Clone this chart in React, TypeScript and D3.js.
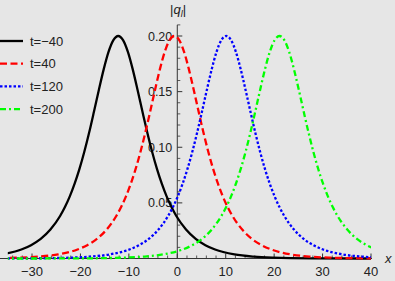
import React from "react";
import * as d3 from "d3";

const seriesLabels = ["t=−40", "t=40", "t=120", "t=200"];
const seriesColors = ["#000000", "#ff0000", "#0000ff", "#00ff00"];
const seriesDash = ["", "7,3.5", "2.5,2", "6,3,2,3"];
// peak positions
const peakCenters = [-12.2, -0.6, 10.1, 21.1];
// shared soliton profile |q_l| (offset from peak, value)
const profileOffset = [-60, -50, -40, -32, -28, -24, -20, -18, -16, -14, -12, -11, -10, -9, -8, -7, -6, -5, -4, -3, -2, -1, 0, 1, 2, 3, 4, 5, 6, 7, 8, 9, 10, 11, 12, 14, 16, 18, 20, 24, 28, 32, 40, 50, 60];
const profileValue = [0.0, 0.00002, 0.00016, 0.0008, 0.0017, 0.0037, 0.0081, 0.012, 0.0176, 0.026, 0.0382, 0.0462, 0.0558, 0.0672, 0.0805, 0.0959, 0.1132, 0.1321, 0.1515, 0.17, 0.1857, 0.1963, 0.2, 0.1963, 0.1857, 0.17, 0.1515, 0.1321, 0.1132, 0.0959, 0.0805, 0.0672, 0.0558, 0.0462, 0.0382, 0.026, 0.0176, 0.012, 0.0081, 0.0037, 0.0017, 0.0008, 0.00016, 0.00002, 0.0];

const xMajor = [-30, -20, -10, 0, 10, 20, 30, 40];
const xMinor = [-34, -32, -28, -26, -24, -22, -18, -16, -14, -12, -8, -6, -4, -2, 2, 4, 6, 8, 12, 14, 16, 18, 22, 24, 26, 28, 32, 34, 36, 38];
const yMajor = [0.05, 0.1, 0.15, 0.2];
const yMinor = [0.01, 0.02, 0.03, 0.04, 0.06, 0.07, 0.08, 0.09, 0.11, 0.12, 0.13, 0.14, 0.16, 0.17, 0.18, 0.19, 0.21];

const W = 395;
const H = 281;

export default function App() {
  const x = d3.scaleLinear().domain([-35, 40]).range([7.8, 371]);
  const y = d3.scaleLinear().domain([0, 0.2]).range([258.5, 36]);
  const x0 = x(0);
  const y0 = y(0);
  const line = d3
    .line<[number, number]>()
    .x((d) => x(d[0]))
    .y((d) => y(d[1]))
    .curve(d3.curveMonotoneX);
  const font = "Arial, 'Liberation Sans', sans-serif";
  const axisColor = "#333";
  return (
    <svg
      width={W}
      height={H}
      style={{ position: "absolute", left: 0, top: 0, background: "#e6e6e6" }}
      fontFamily={font}
    >
      <defs>
        <clipPath id="plotclip">
          <rect x={x(-35)} y={0} width={x(40) - x(-35)} height={H} />
        </clipPath>
      </defs>
      <rect x={0} y={0} width={W} height={H} fill="#e6e6e6" />
      {/* axes */}
      <line x1={0} x2={372} y1={y0} y2={y0} stroke={axisColor} strokeWidth={1} />
      <line x1={x0} x2={x0} y1={y0} y2={y(0.21)} stroke={axisColor} strokeWidth={1} />
      {xMajor.map((v) => (
        <line key={"xM" + v} x1={x(v)} x2={x(v)} y1={y0} y2={y0 - 5} stroke={axisColor} strokeWidth={1} />
      ))}
      {xMinor.map((v) => (
        <line key={"xm" + v} x1={x(v)} x2={x(v)} y1={y0} y2={y0 - 3} stroke={axisColor} strokeWidth={0.8} />
      ))}
      {yMajor.map((v) => (
        <line key={"yM" + v} x1={x0} x2={x0 + 5} y1={y(v)} y2={y(v)} stroke={axisColor} strokeWidth={1} />
      ))}
      {yMinor.map((v) => (
        <line key={"ym" + v} x1={x0} x2={x0 + 3} y1={y(v)} y2={y(v)} stroke={axisColor} strokeWidth={0.8} />
      ))}
      {xMajor.map((v) => (
        <text key={"xl" + v} x={x(v)} y={y0 + 17} textAnchor="middle" fontSize={13} fill="#222">
          {v < 0 ? "−" + Math.abs(v) : String(v)}
        </text>
      ))}
      {yMajor.map((v) => (
        <text key={"yl" + v} x={x0 - 5} y={y(v) + 4.5} textAnchor="end" fontSize={12.5} fill="#222">
          {v.toFixed(2)}
        </text>
      ))}
      <text x={385} y={263} fontSize={13} fontStyle="italic" fill="#222">x</text>
      <text x={170} y={14} fontSize={13} fill="#222">
        |<tspan fontStyle="italic">q</tspan>
        <tspan fontStyle="italic" fontSize={9} dy={3}>l</tspan>
        <tspan dy={-3}>|</tspan>
      </text>
      {/* curves */}
      <g clipPath="url(#plotclip)">
        {peakCenters.map((c, i) => {
          const pts: [number, number][] = profileOffset.map((o, j) => [c + o, profileValue[j]]);
          return (
            <path
              key={"c" + i}
              d={line(pts) || ""}
              fill="none"
              stroke={seriesColors[i]}
              strokeWidth={2.3}
              strokeDasharray={seriesDash[i] || undefined}
            />
          );
        })}
      </g>
      {/* legend */}
      {seriesLabels.map((s, i) => {
        const ly = 41 + i * 22.7;
        return (
          <g key={"lg" + i}>
            <line x1={0} x2={23} y1={ly} y2={ly} stroke={seriesColors[i]} strokeWidth={2.3} strokeDasharray={seriesDash[i] || undefined} />
            <text x={30} y={ly + 4.5} fontSize={13} fill="#222">{s}</text>
          </g>
        );
      })}
    </svg>
  );
}
